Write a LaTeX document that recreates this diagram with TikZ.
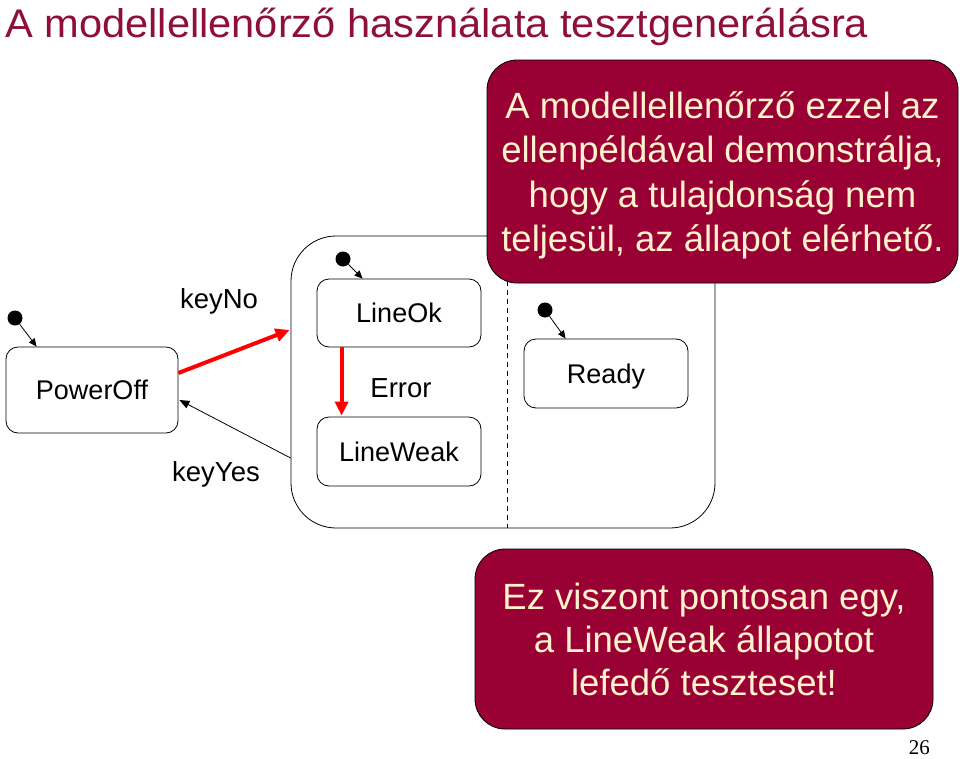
\documentclass[tikz,border=0pt]{standalone}
\usepackage{fontspec}
\setmainfont{Liberation Sans}
\newfontfamily\serifpn{Liberation Serif}
\usetikzlibrary{arrows.meta,calc}
\definecolor{crimson}{HTML}{990033}
\definecolor{titlered}{HTML}{8E0E3C}
\definecolor{cream}{HTML}{FFF2CC}
\begin{document}
\begin{tikzpicture}[x=1pt,y=-1pt,
  statebox/.style={draw,thick,rounded corners=12pt,minimum width=164pt,minimum height=68pt,font=\fontsize{27}{30}\selectfont,inner sep=0pt},
  initdot/.style={circle,fill=black,inner sep=0pt,minimum size=15pt},
  initarrow/.style={thick,-{Triangle[length=8pt,width=7pt]}},
  redarrow/.style={draw=red,line width=4pt,-{Triangle[length=14pt,width=13pt]}},
  blkarrow/.style={thick,-{Triangle[length=10pt,width=8pt]}},
  lbl/.style={font=\fontsize{27.5}{30}\selectfont,inner sep=0pt},
  callout/.style={draw=black,thick,fill=crimson,rounded corners=30pt,inner sep=0pt},
  calltext/.style={text=cream,align=center,inner sep=0pt,font=\fontsize{36.5}{44.5}\selectfont}]
\useasboundingbox (0,0) rectangle (960,758);
% title
\node[anchor=base west,inner sep=0pt,text=titlered] (title) at (5,37)
  {\resizebox{863pt}{\height}{\fontsize{40}{40}\selectfont A modellellenőrző használata tesztgenerálásra}};
% superstate
\node[draw,thick,rounded corners=45pt,minimum width=424pt,minimum height=292pt,inner sep=0pt] (super) at (503,382) {};
\coordinate (dtop) at (507,236);
\coordinate (dbot) at (507,528);
\draw[thick,dashed,dash pattern=on 5pt off 4pt] (dtop) -- (dbot);
% states
\node[statebox,minimum height=86pt,minimum width=172pt] (PowerOff) at (92,390) {PowerOff};
\node[statebox] (LineOk) at (399,313) {LineOk};
\node[statebox,minimum height=69pt] (LineWeak) at (399,451.5) {LineWeak};
\node[statebox,minimum height=69pt,label={[font=\fontsize{27}{30}\selectfont,inner sep=0pt,yshift=-3.5pt]center:Ready}] (Ready) at (606,373.5) {};
% initial dots
\node[initdot] (i1) at (15,318) {};
\node[initdot] (i2) at (343,259) {};
\node[initdot] (i3) at (545,310) {};
\draw[initarrow] (i1) -- ($(PowerOff.north west)+(31,0)$);
\draw[initarrow] (i2) -- ($(LineOk.north west)+(46,0)$);
\draw[initarrow] (i3) -- ($(Ready.north west)+(42,0)$);
% transitions
\draw[redarrow] ($(PowerOff.east)+(0,-17)$) -- ($(super.west)+(-1,-52)$);
\draw[blkarrow] ($(super.west)+(0,76)$) -- ($(PowerOff.east)+(1,10)$);
\draw[redarrow] ($(LineOk.south west)+(25,0)$) -- ($(LineWeak.north west)+(25,-1)$);
% labels
\node[lbl] (keyNo) at (219,301) {keyNo};
\node[lbl] (keyYes) at (216,474) {keyYes};
\node[lbl] (Error) at (401,388) {Error};
% callouts
\node[callout,minimum width=471pt,minimum height=223pt] (c1) at (722.5,171.5) {};
\node[calltext] (t1) at ($(c1.center)+(0,4)$)
  {A modellellenőrző ezzel az\\ellenpéldával demonstrálja,\\hogy a tulajdonság nem\\teljesül, az állapot elérhető.};
\node[callout,minimum width=458pt,minimum height=180pt] (c2) at (704,639) {};
\node[calltext,font=\fontsize{36.5}{43}\selectfont] (t2) at (c2.center)
  {Ez viszont pontosan egy,\\a LineWeak állapotot\\lefedő teszteset!};
\node[anchor=base east,inner sep=0pt,font=\serifpn\fontsize{21}{21}\selectfont] (pn) at (930,754) {26};
\end{tikzpicture}
\end{document}
